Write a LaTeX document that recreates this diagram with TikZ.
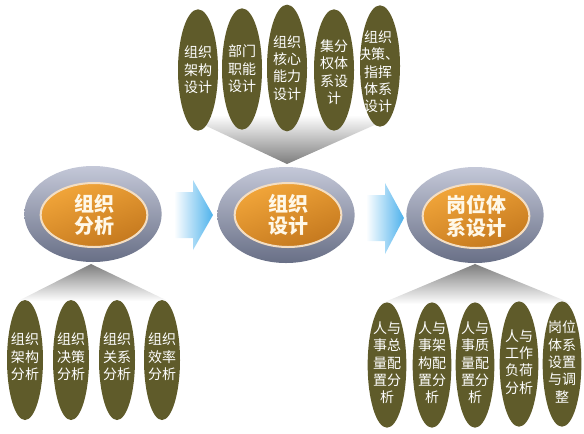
\documentclass[tikz,border=0pt]{standalone}
\usepackage{fontspec}
\newfontfamily\cjk{Noto Sans CJK SC}
\usetikzlibrary{shapes.geometric}
\definecolor{olivec}{RGB}{95,91,42}
\definecolor{ringtop}{RGB}{196,200,216}
\definecolor{ringbot}{RGB}{104,111,134}
\definecolor{coretop}{RGB}{242,166,58}
\definecolor{corebot}{RGB}{196,120,30}
\definecolor{corerim}{RGB}{244,222,194}
\definecolor{cream}{RGB}{255,248,232}
\definecolor{chevgray}{RGB}{125,125,125}
\definecolor{arrowblue}{RGB}{78,178,236}
\begin{document}
\begin{tikzpicture}[x=0.75pt,y=-0.75pt,
  leaf/.style={ellipse, fill=olivec, minimum width=30pt, minimum height=91pt, inner sep=0pt},
  leafb/.style={leaf, minimum width=27pt, minimum height=90pt},
  leafr/.style={leaf, minimum width=29pt, minimum height=94pt},
  leaftext/.style={text=white, font=\cjk\fontsize{10.5pt}{13pt}\selectfont, align=center, inner sep=0pt},
  ring/.style={ellipse, minimum width=103pt, minimum height=72pt, top color=ringtop, bottom color=ringbot, inner sep=0pt},
  core/.style={ellipse, minimum width=80pt, minimum height=48pt, draw=corerim, line width=1.5pt, top color=coretop, bottom color=corebot, shading angle=20, inner sep=0pt},
  coretext/.style={text=cream, font=\cjk\bfseries\fontsize{15pt}{17pt}\selectfont, align=center, inner sep=0pt}
]
\useasboundingbox (0,0) rectangle (584,433);
% chevrons
\shade[top color=white, bottom color=chevgray] (183,115) -- (397,115) -- (287,164) -- cycle;
\shade[top color=chevgray, bottom color=white] (91,264) -- (168,301) -- (18,301) -- cycle;
\shade[top color=chevgray, bottom color=white] (475,264) -- (573,304) -- (380,304) -- cycle;
% arrows
\shade[left color=white, right color=arrowblue] (174,192) -- (193,192) -- (193,180) -- (213,215) -- (193,250) -- (193,238) -- (174,238) -- cycle;
\shade[left color=white, right color=arrowblue] (366,195) -- (385,195) -- (385,183) -- (404,218) -- (385,254) -- (385,241) -- (366,241) -- cycle;
% top leaves
\node[leaf] (t1) at (198,70) {};
\node[leaf] (t2) at (242,69) {};
\node[leaf, minimum height=95pt] (t3) at (287,68) {};
\node[leaf] (t4) at (334,70) {};
\node[leaf] (t5) at (380,66) {};
\node[leaftext] (t1t) at (t1) {组织\\架构\\设计};
\node[leaftext] (t2t) at (t2) {部门\\职能\\设计};
\node[leaftext] (t3t) at (t3) {组织\\核心\\能力\\设计};
\node[leaftext] (t4t) at (334,72) {集分\\权体\\系设\\计};
\node[leaftext] (t5t) at (378,72) {组织\\决策、\\指挥\\体系\\设计};
% centre ellipses
\node[ring] (m1) at (93,214) {};
\node[core] (c1) at (94,215) {};
\node[coretext] (c1t) at (c1) {组织\\分析};
\node[ring] (m2) at (286,215) {};
\node[core] (c2) at (288,215) {};
\node[coretext] (c2t) at (c2) {组织\\设计};
\node[ring] (m3) at (475,215) {};
\node[core] (c3) at (476,216) {};
\node[coretext] (c3t) at (c3) {岗位体\\系设计};
% bottom-left leaves
\node[leafb] (b1) at (25,360) {};
\node[leafb] (b2) at (71,360) {};
\node[leafb] (b3) at (117,360) {};
\node[leafb] (b4) at (162,360) {};
\node[leaftext] (b1t) at (25,357) {组织\\架构\\分析};
\node[leaftext] (b2t) at (71,357) {组织\\决策\\分析};
\node[leaftext] (b3t) at (117,357) {组织\\关系\\分析};
\node[leaftext] (b4t) at (162,357) {组织\\效率\\分析};
% bottom-right leaves
\node[leafr] (r1) at (387,365) {};
\node[leafr] (r2) at (432,365) {};
\node[leafr] (r3) at (475,365) {};
\node[leafr] (r4) at (519,364) {};
\node[leafr] (r5) at (562,364) {};
\node[leaftext] (r1t) at (387,363) {人与\\事总\\量配\\置分\\析};
\node[leaftext] (r2t) at (432,363) {人与\\事架\\构配\\置分\\析};
\node[leaftext] (r3t) at (475,363) {人与\\事质\\量配\\置分\\析};
\node[leaftext] (r4t) at (519,362) {人与\\工作\\负荷\\分析};
\node[leaftext] (r5t) at (562,362) {岗位\\体系\\设置\\与调\\整};
\end{tikzpicture}
\end{document}
